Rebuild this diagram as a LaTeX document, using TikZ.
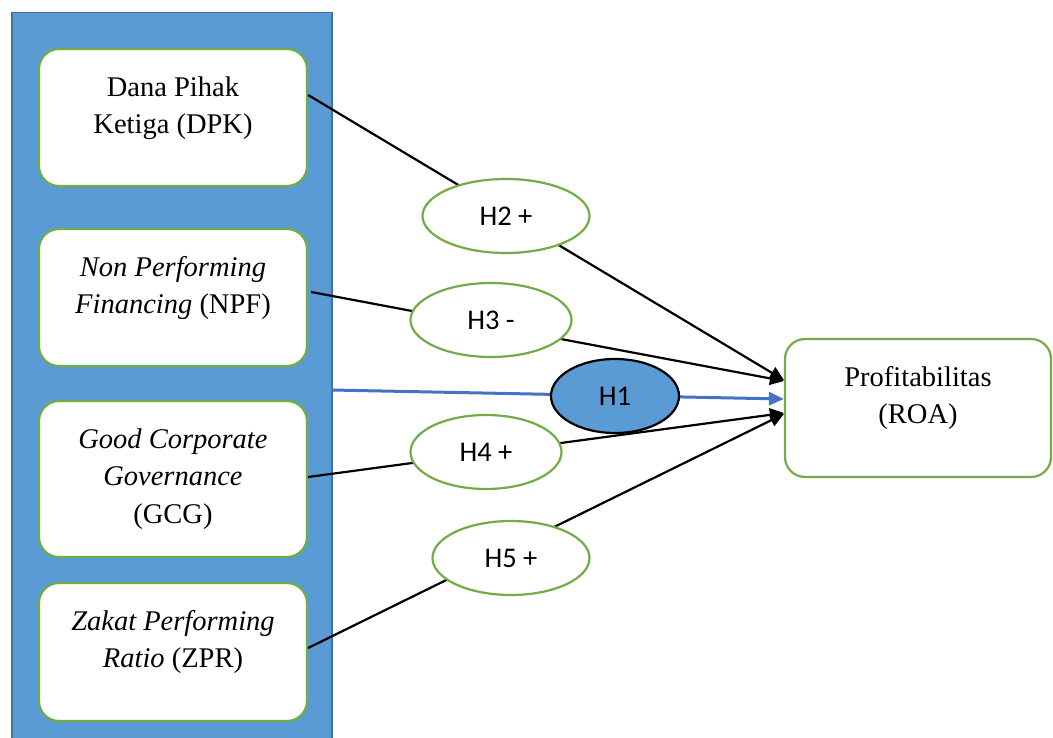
\documentclass[tikz,border=0pt]{standalone}
\usepackage{fontspec}
\setmainfont{Liberation Serif}
\newfontfamily\hypfont{Carlito}
\usetikzlibrary{shapes.geometric, arrows.meta}
\definecolor{panelblue}{HTML}{5B9BD5}
\definecolor{paneledge}{HTML}{41719C}
\definecolor{varedge}{HTML}{70AD47}
\definecolor{linkblue}{HTML}{4472C4}
\newcommand{\boxtext}[2]{\parbox[c][#1][t]{266pt}{\vspace*{21pt}\centering\strut #2\par}}
\tikzstyle{panel}   = [rectangle, fill=panelblue, draw=paneledge, line width=1.5pt,
                       minimum width=320pt, minimum height=760pt, inner sep=0pt]
\tikzstyle{varbox}  = [rectangle, rounded corners=20pt, draw=varedge, line width=2.2pt,
                       fill=white, inner sep=0pt, minimum width=268pt,
                       font=\fontsize{28.5}{37.5}\selectfont]
\tikzstyle{hyp}     = [ellipse, draw=varedge, line width=2.2pt, fill=white, inner sep=0pt,
                       minimum height=74pt, font=\hypfont\fontsize{28.5}{34}\selectfont]
\tikzstyle{arrow}   = [-{Triangle[length=14pt,width=13pt]}, line width=2.2pt, black]
\tikzstyle{bluearrow} = [-{Triangle[length=15pt,width=13pt]}, line width=3pt, linkblue]

\begin{document}
\begin{tikzpicture}[x=1pt, y=-1pt]
  \useasboundingbox (0,0) rectangle (1053,738);
  \clip (0,0) rectangle (1053,738);

  %% Independent variables panel
  \node[panel, anchor=north west] (panel) at (11,12) {};

  \node[varbox] (dpk) at (173,117.5)
        {\boxtext{137pt}{Dana Pihak\\Ketiga (DPK)}};
  \node[varbox] (npf) at (173,297.5)
        {\boxtext{137pt}{\textit{Non Performing}\\\textit{Financing} (NPF)}};
  \node[varbox] (gcg) at (173,479)
        {\boxtext{156pt}{\textit{Good Corporate}\\\textit{Governance}\\(GCG)}};
  \node[varbox] (zpr) at (173,652)
        {\boxtext{138pt}{\textit{Zakat Performing}\\\textit{Ratio} (ZPR)}};

  %% Dependent variable
  \node[varbox, minimum width=266pt] (roa) at (918,408)
        {\boxtext{138pt}{Profitabilitas\\(ROA)}};

  %% Arrows
  \coordinate (h1start) at (331,390);
  \draw[arrow] ([yshift=22.5pt]dpk.east) -- ([yshift=28pt]roa.west);
  \draw[arrow] ([xshift=3pt,yshift=5.5pt]npf.east) -- ([yshift=27pt]roa.west);
  \draw[bluearrow] (h1start) -- ([yshift=9pt]roa.west);
  \draw[arrow] ([yshift=2pt]gcg.east) -- ([yshift=-5pt]roa.west);
  \draw[arrow] ([yshift=4pt]zpr.east) -- ([yshift=-6pt]roa.west);

  %% Hypotheses
  \node[hyp, minimum width=167pt] (h2) at (506,216) {H2 +};
  \node[hyp, minimum width=161pt] (h3) at (491,320) {H3 -};
  \node[hyp, minimum width=128pt, fill=panelblue, draw=black] (h1) at (615,396) {H1};
  \node[hyp, minimum width=151pt] (h4) at (486,452) {H4 +};
  \node[hyp, minimum width=157pt] (h5) at (511,558) {H5 +};

\end{tikzpicture}
\end{document}
